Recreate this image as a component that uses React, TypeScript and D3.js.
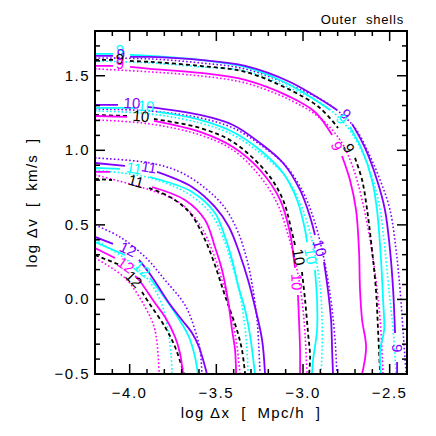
import React from "react";
import * as d3 from "d3";

type P = [number, number] | null;

// Axis ranges and ticks
const xDomain = [-4.2, -2.4];
const yDomain = [-0.5, 1.8];
const xMajor = [-4.0, -3.5, -3.0, -2.5];
const xTickLabels = ["\u22124.0", "\u22123.5", "\u22123.0", "\u22122.5"];
const yMajor = [-0.5, 0.0, 0.5, 1.0, 1.5];
const yTickLabels = ["\u22120.5", "0.0", "0.5", "1.0", "1.5"];
const xMinor = d3.range(-42, -23).map((v) => v / 10);
const yMinor = d3.range(-5, 19).map((v) => v / 10);

// Contour level 9
const p9: P[] = [[-4.2,1.633],[-4.096,1.633],null,[-3.998,1.626],[-3.883,1.626],[-3.594,1.606],[-3.334,1.566],[-3.075,1.458],[-2.804,1.271],null,[-2.717,1.177],[-2.642,1.016],[-2.573,0.801],[-2.527,0.600],[-2.498,0.332],[-2.480,0.063],[-2.469,-0.225],null,[-2.457,-0.419],[-2.457,-0.5]];
const p9d: P[] = [[-4.2,1.619],[-3.883,1.613],[-3.594,1.586],[-3.334,1.546],[-3.075,1.438],[-2.844,1.304],[-2.700,1.150],[-2.625,0.989],[-2.555,0.801],[-2.498,0.600],[-2.463,0.332],[-2.440,0.063],[-2.423,-0.205],[-2.405,-0.5]];
const c9: P[] = [[-4.2,1.646],[-4.096,1.646],null,[-3.998,1.640],[-3.883,1.633],[-3.594,1.606],[-3.334,1.559],[-3.075,1.438],[-2.844,1.271],null,[-2.729,1.157],[-2.659,1.002],[-2.602,0.801],[-2.573,0.600],[-2.550,0.265],[-2.538,-0.004],[-2.532,-0.205],[-2.555,-0.339],[-2.550,-0.5]];
const c9d: P[] = [[-4.2,1.599],[-3.883,1.586],[-3.594,1.559],[-3.334,1.532],[-3.075,1.418],[-2.873,1.298],[-2.740,1.150],[-2.659,0.989],[-2.596,0.801],[-2.555,0.600],[-2.527,0.332],[-2.504,0.063],[-2.480,-0.205],[-2.463,-0.5]];
const k9: P[] = [[-4.2,1.606],[-4.096,1.606],null,[-3.998,1.599],[-3.883,1.593],[-3.594,1.566],[-3.334,1.526],[-3.075,1.405],[-2.902,1.284],[-2.798,1.150],null,[-2.700,0.949],[-2.659,0.801],[-2.630,0.600],[-2.602,0.332],[-2.579,0.063],[-2.567,-0.205],[-2.555,-0.5]];
const m9: P[] = [[-4.2,1.566],[-4.096,1.566],null,[-3.998,1.559],[-3.883,1.546],[-3.594,1.519],[-3.334,1.472],[-3.075,1.358],[-2.931,1.257],[-2.832,1.103],null,[-2.775,0.962],[-2.729,0.801],[-2.694,0.600],[-2.677,0.332],[-2.671,0.063],[-2.659,-0.138],[-2.636,-0.319],[-2.659,-0.5]];
const m9d: P[] = [[-4.2,1.546],[-3.883,1.526],[-3.594,1.499],[-3.334,1.452],[-3.075,1.338],[-2.902,1.217],[-2.786,1.069],[-2.717,0.902],[-2.659,0.667],[-2.613,0.399],[-2.579,0.130],[-2.555,-0.138],[-2.538,-0.5]];

// Contour level 10
const p10: P[] = [[-4.2,1.304],[-4.067,1.304],null,[-3.900,1.291],[-3.594,1.237],[-3.404,1.170],[-3.248,1.049],[-3.115,0.915],[-3.017,0.734],[-2.959,0.553],[-2.931,0.432],null,[-2.879,0.251],[-2.856,0.063],[-2.838,-0.138],[-2.832,-0.339],[-2.827,-0.5]];
const p10d: P[] = [[-4.2,1.277],[-3.883,1.264],[-3.594,1.217],[-3.404,1.150],[-3.236,1.029],[-3.098,0.895],[-3.000,0.721],[-2.936,0.533],[-2.890,0.332],[-2.856,0.130],[-2.832,-0.071],[-2.815,-0.272],[-2.804,-0.5]];
const c10: P[] = [[-4.2,1.284],[-3.969,1.284],null,[-3.842,1.257],[-3.594,1.204],[-3.404,1.123],[-3.248,1.002],[-3.115,0.848],[-3.034,0.667],[-2.988,0.466],[-2.977,0.385],null,[-2.931,0.198],[-2.919,-0.004],[-2.919,-0.205],[-2.942,-0.406],[-2.948,-0.5]];
const c10d: P[] = [[-4.2,1.264],[-3.883,1.244],[-3.594,1.183],[-3.404,1.103],[-3.248,0.982],[-3.104,0.828],[-3.017,0.647],[-2.959,0.446],[-2.925,0.265],[-2.902,0.097],[-2.890,-0.138],[-2.890,-0.339],[-2.896,-0.5]];
const k10: P[] = [[-4.2,1.237],[-4.009,1.230],null,[-3.860,1.210],[-3.594,1.150],[-3.404,1.056],[-3.208,0.848],[-3.115,0.667],[-3.063,0.446],[-3.046,0.365],null,[-3.006,0.184],[-2.988,-0.004],[-2.971,-0.225],[-2.959,-0.386],[-2.965,-0.5]];
const m10: P[] = [[-4.2,1.230],[-4.015,1.224],null,[-3.860,1.197],[-3.594,1.123],[-3.404,1.022],[-3.248,0.868],[-3.132,0.667],[-3.075,0.446],[-3.052,0.265],[-3.046,0.211],null,[-3.029,0.030],[-3.023,-0.138],[-3.017,-0.339],[-3.017,-0.5]];
const m10d: P[] = [[-4.2,1.204],[-3.883,1.177],[-3.594,1.103],[-3.404,1.002],[-3.259,0.841],[-3.150,0.647],[-3.086,0.432],[-3.040,0.231],[-3.006,-0.004],[-2.988,-0.238],[-2.977,-0.5]];

// Contour level 11
const p11: P[] = [[-4.2,0.915],[-4.027,0.895],null,[-3.842,0.855],[-3.640,0.754],[-3.508,0.620],[-3.427,0.486],[-3.363,0.298],[-3.317,0.130],[-3.277,-0.051],[-3.236,-0.272],[-3.219,-0.5]];
const p11d: P[] = [[-4.2,0.949],[-3.883,0.915],[-3.710,0.855],[-3.565,0.747],[-3.450,0.613],[-3.375,0.452],[-3.323,0.265],[-3.288,0.063],[-3.265,-0.138],[-3.254,-0.339],[-3.248,-0.5]];
const c11: P[] = [[-4.2,0.882],[-4.056,0.875],null,[-3.883,0.821],[-3.640,0.721],[-3.508,0.580],[-3.450,0.419],[-3.409,0.265],[-3.375,0.097],[-3.334,-0.071],[-3.306,-0.238],[-3.277,-0.5]];
const c11d: P[] = [[-4.2,0.868],[-3.883,0.815],[-3.652,0.701],[-3.525,0.566],[-3.456,0.399],[-3.409,0.231],[-3.369,0.063],[-3.340,-0.138],[-3.323,-0.339],[-3.317,-0.5]];
const k11: P[] = [[-4.2,0.808],[-4.102,0.801],null,[-3.888,0.747],[-3.767,0.687],[-3.652,0.580],[-3.565,0.399],[-3.508,0.231],[-3.461,0.063],[-3.421,-0.071],[-3.381,-0.205],[-3.352,-0.339],[-3.334,-0.5]];
const m11: P[] = [[-4.2,0.855],[-4.113,0.855],null,[-3.871,0.754],[-3.681,0.667],[-3.565,0.533],[-3.508,0.352],[-3.467,0.198],[-3.433,-0.004],[-3.409,-0.205],[-3.392,-0.339],[-3.386,-0.5]];
const m11d: P[] = [[-4.2,0.835],[-3.883,0.734],[-3.710,0.647],[-3.594,0.499],[-3.525,0.332],[-3.467,0.130],[-3.421,-0.071],[-3.386,-0.272],[-3.363,-0.5]];

// Contour level 12
const p12: P[] = [[-4.2,0.419],[-4.096,0.372],null,[-3.946,0.265],[-3.871,0.151],[-3.773,-0.024],[-3.698,-0.138],[-3.640,-0.225],[-3.600,-0.319],[-3.554,-0.5]];
const p12d: P[] = [[-4.2,0.499],[-4.056,0.419],[-3.911,0.285],[-3.796,0.130],[-3.681,-0.037],[-3.623,-0.205],[-3.594,-0.339],[-3.583,-0.5]];
const c12: P[] = [[-4.2,0.385],[-4.027,0.298],null,[-3.883,0.144],[-3.831,0.063],[-3.738,-0.091],[-3.658,-0.252],[-3.623,-0.386],[-3.606,-0.5]];
const c12d: P[] = [[-4.2,0.399],[-3.998,0.251],[-3.883,0.117],[-3.813,-0.037],[-3.779,-0.205],[-3.761,-0.373],[-3.756,-0.5]];
const k12: P[] = [[-4.2,0.298],[-4.056,0.231],null,[-3.929,0.050],[-3.888,-0.024],[-3.796,-0.185],[-3.738,-0.319],[-3.686,-0.5]];
const m12: P[] = [[-4.2,0.345],[-4.085,0.278],null,[-3.969,0.157],[-3.946,0.130],[-3.854,-0.024],[-3.796,-0.118],[-3.738,-0.252],[-3.710,-0.359],[-3.692,-0.5]];
const m12d: P[] = [[-4.2,0.278],[-4.027,0.144],[-3.911,-0.051],[-3.854,-0.205],[-3.830,-0.5]];

const PURPLE = "#8000ff";
const CYAN = "#00ffff";
const MAGENTA = "#ff00ff";
const BLACK = "#000000";

const curves: { d: P[]; c: string; s: "solid" | "dot" | "dash" }[] = [
  { d: p9d, c: PURPLE, s: "dot" }, { d: c9d, c: CYAN, s: "dot" }, { d: m9d, c: MAGENTA, s: "dot" },
  { d: p10d, c: PURPLE, s: "dot" }, { d: c10d, c: CYAN, s: "dot" }, { d: m10d, c: MAGENTA, s: "dot" },
  { d: p11d, c: PURPLE, s: "dot" }, { d: c11d, c: CYAN, s: "dot" }, { d: m11d, c: MAGENTA, s: "dot" },
  { d: p12d, c: PURPLE, s: "dot" }, { d: c12d, c: CYAN, s: "dot" }, { d: m12d, c: MAGENTA, s: "dot" },
  { d: k9, c: BLACK, s: "dash" }, { d: k10, c: BLACK, s: "dash" }, { d: k11, c: BLACK, s: "dash" }, { d: k12, c: BLACK, s: "dash" },
  { d: m9, c: MAGENTA, s: "solid" }, { d: m10, c: MAGENTA, s: "solid" }, { d: m11, c: MAGENTA, s: "solid" }, { d: m12, c: MAGENTA, s: "solid" },
  { d: c9, c: CYAN, s: "solid" }, { d: c10, c: CYAN, s: "solid" }, { d: c11, c: CYAN, s: "solid" }, { d: c12, c: CYAN, s: "solid" },
  { d: p9, c: PURPLE, s: "solid" }, { d: p10, c: PURPLE, s: "solid" }, { d: p11, c: PURPLE, s: "solid" }, { d: p12, c: PURPLE, s: "solid" },
];

// Contour labels: text, colour, data position, rotation
const contourLabels: { t: string; c: string; x: number; y: number; r: number }[] = [
  { t: "9", c: CYAN, x: -4.056, y: 1.673, r: 0 },
  { t: "9", c: PURPLE, x: -4.050, y: 1.646, r: 0 },
  { t: "9", c: BLACK, x: -4.056, y: 1.613, r: 0 },
  { t: "9", c: MAGENTA, x: -4.056, y: 1.579, r: 0 },
  { t: "9", c: PURPLE, x: -2.752, y: 1.244, r: 50 },
  { t: "9", c: CYAN, x: -2.775, y: 1.210, r: 55 },
  { t: "9", c: MAGENTA, x: -2.804, y: 1.029, r: 65 },
  { t: "9", c: BLACK, x: -2.734, y: 1.016, r: 65 },
  { t: "9", c: PURPLE, x: -2.457, y: -0.326, r: 90 },
  { t: "10", c: PURPLE, x: -3.987, y: 1.318, r: 3 },
  { t: "10", c: CYAN, x: -3.906, y: 1.298, r: 5 },
  { t: "10", c: BLACK, x: -3.935, y: 1.230, r: 5 },
  { t: "10", c: PURPLE, x: -2.902, y: 0.345, r: 75 },
  { t: "10", c: CYAN, x: -2.954, y: 0.291, r: 80 },
  { t: "10", c: BLACK, x: -3.023, y: 0.285, r: 80 },
  { t: "10", c: MAGENTA, x: -3.034, y: 0.117, r: 88 },
  { t: "11", c: CYAN, x: -3.975, y: 0.882, r: 10 },
  { t: "11", c: PURPLE, x: -3.888, y: 0.888, r: 10 },
  { t: "11", c: BLACK, x: -3.963, y: 0.794, r: 15 },
  { t: "12", c: PURPLE, x: -4.009, y: 0.338, r: 25 },
  { t: "12", c: MAGENTA, x: -4.021, y: 0.231, r: 35 },
  { t: "12", c: CYAN, x: -3.929, y: 0.204, r: 40 },
  { t: "12", c: BLACK, x: -3.975, y: 0.137, r: 45 },
];

const W = 436, H = 436;
const M = { left: 95, right: 407, top: 31, bottom: 374 };
const FONT = "'Liberation Sans', Arial, Helvetica, sans-serif";

export default function App() {
  const x = d3.scaleLinear().domain(xDomain).range([M.left, M.right]);
  const y = d3.scaleLinear().domain(yDomain).range([M.bottom, M.top]);
  const line = d3
    .line<P>()
    .defined((d) => d != null)
    .x((d) => x((d as [number, number])[0]))
    .y((d) => y((d as [number, number])[1]))
    .curve(d3.curveCatmullRom.alpha(0.5));

  const dash = (s: string) => (s === "dot" ? "1.6 2.2" : s === "dash" ? "4 3" : undefined);

  return (
    <svg width={W} height={H} style={{ position: "absolute", left: 0, top: 0, background: "#fff" }}>
      <defs>
        <clipPath id="plot">
          <rect x={M.left} y={M.top} width={M.right - M.left} height={M.bottom - M.top} />
        </clipPath>
      </defs>
      <g clipPath="url(#plot)">
        {curves.map((cv, i) => (
          <path
            key={i}
            d={line(cv.d) || ""}
            fill="none"
            stroke={cv.c}
            strokeWidth={cv.s === "dot" ? 1.6 : 1.8}
            strokeDasharray={dash(cv.s)}
          />
        ))}
        {contourLabels.map((l, i) => (
          <text
            key={i}
            transform={`translate(${x(l.x)},${y(l.y)}) rotate(${l.r})`}
            textAnchor="middle"
            dominantBaseline="central"
            fill={l.c}
            fontFamily={FONT}
            fontSize={15}
          >
            {l.t}
          </text>
        ))}
      </g>
      {/* frame */}
      <rect x={M.left} y={M.top} width={M.right - M.left} height={M.bottom - M.top} fill="none" stroke="#000" strokeWidth={2} />
      {/* x ticks */}
      {xMinor.map((v, i) => {
        const major = xMajor.some((m) => Math.abs(m - v) < 1e-6);
        const L = major ? 10 : 5;
        return (
          <g key={"xt" + i}>
            <line x1={x(v)} x2={x(v)} y1={M.bottom} y2={M.bottom - L} stroke="#000" strokeWidth={1.5} />
            <line x1={x(v)} x2={x(v)} y1={M.top} y2={M.top + L} stroke="#000" strokeWidth={1.5} />
          </g>
        );
      })}
      {yMinor.map((v, i) => {
        const major = yMajor.some((m) => Math.abs(m - v) < 1e-6);
        const L = major ? 10 : 5;
        return (
          <g key={"yt" + i}>
            <line y1={y(v)} y2={y(v)} x1={M.left} x2={M.left + L} stroke="#000" strokeWidth={1.5} />
            <line y1={y(v)} y2={y(v)} x1={M.right} x2={M.right - L} stroke="#000" strokeWidth={1.5} />
          </g>
        );
      })}
      {xMajor.map((v, i) => (
        <text key={"xl" + i} x={x(v)} y={398} textAnchor="middle" fontFamily={FONT} fontSize={15} letterSpacing={1.5}>
          {xTickLabels[i]}
        </text>
      ))}
      {yMajor.map((v, i) => (
        <text key={"yl" + i} x={90} y={y(v) + 5} textAnchor="end" fontFamily={FONT} fontSize={15} letterSpacing={1.5}>
          {yTickLabels[i]}
        </text>
      ))}
      <text x={251} y={418} textAnchor="middle" fontFamily={FONT} fontSize={15} letterSpacing={1.3} style={{ whiteSpace: "pre" }}>
        {"log \u0394x  [  Mpc/h  ]"}
      </text>
      <text
        transform={`translate(37,${(M.top + M.bottom) / 2}) rotate(-90)`}
        textAnchor="middle"
        fontFamily={FONT}
        fontSize={15}
        letterSpacing={1.3}
        style={{ whiteSpace: "pre" }}
      >
        {"log \u0394v  [  km/s  ]"}
      </text>
      <text x={404} y={24} textAnchor="end" fontFamily={FONT} fontSize={13} letterSpacing={0.8} style={{ whiteSpace: "pre" }}>
        {"Outer  shells"}
      </text>
    </svg>
  );
}
